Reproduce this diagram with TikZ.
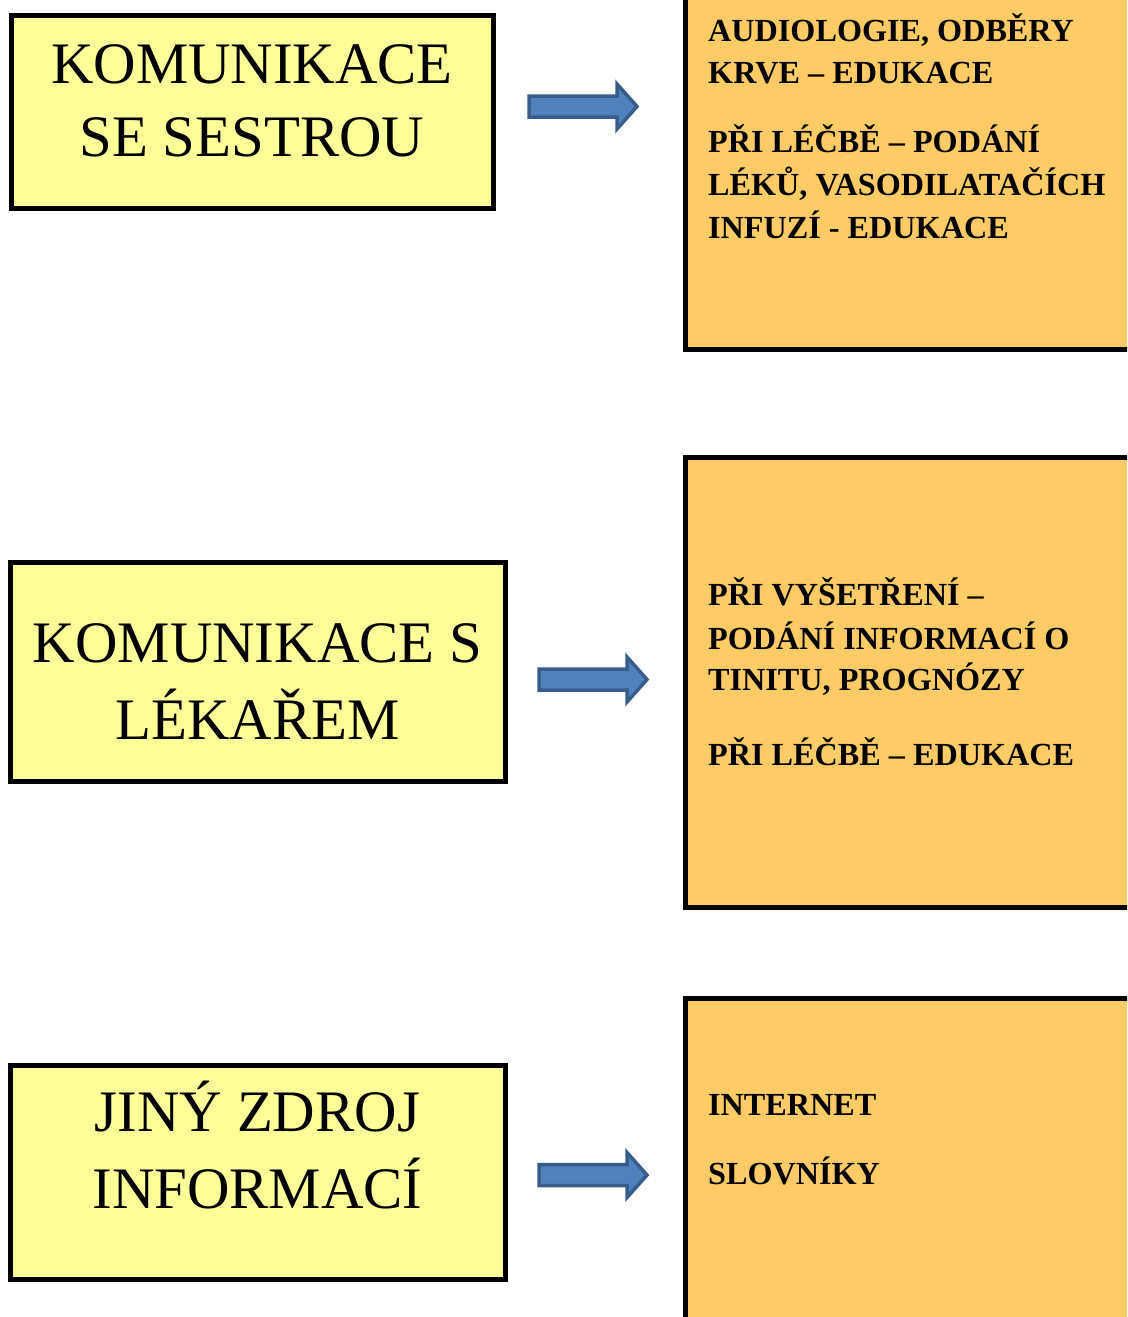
\documentclass[tikz,border=0pt]{standalone}
\usepackage{fontspec}
\setmainfont{Liberation Serif}
\definecolor{sourcefill}{HTML}{FFFF99}
\definecolor{detailfill}{HTML}{FFCB66}
\definecolor{arrowfill}{HTML}{4F81BD}
\definecolor{arrowline}{HTML}{385D8A}
\tikzset{
  sourcebox/.style={draw=black, line width=5pt, fill=sourcefill, rectangle,
    inner sep=0pt, outer sep=0pt},
  detailbox/.style={draw=black, line width=5pt, fill=detailfill, rectangle,
    inner sep=0pt, outer sep=0pt},
  sourcetext/.style={anchor=base, inner sep=0pt,
    font=\fontsize{58.8}{68}\selectfont},
  detailtext/.style={anchor=base west, inner sep=0pt,
    font=\bfseries\fontsize{32.2}{43}\selectfont},
  blockarrow/.pic={
    \draw[line width=3.5pt, draw=arrowline, fill=arrowfill, line join=miter]
      (0,-10.5) -- (88,-10.5) -- (88,-22.5) -- (108,0) -- (88,22.5)
      -- (88,10.5) -- (0,10.5) -- cycle;
  }
}
\begin{document}
\begin{tikzpicture}[x=1pt, y=-1pt]
  \useasboundingbox (0,0) rectangle (1127,1317);
  \clip (0,0) rectangle (1127,1317);

  % left column: where the information comes from
  \node[sourcebox, minimum width=482pt, minimum height=192.5pt] (s1) at (252,111.75) {};
  \node[sourcebox, minimum width=494.5pt, minimum height=219pt] (s2) at (257.75,671.5) {};
  \node[sourcebox, minimum width=494.5pt, minimum height=214pt] (s3) at (257.75,1172.5) {};

  \node[sourcetext] (s1a) at (252,83.3) {KOMUNIKACE};
  \node[sourcetext] (s1b) at (252,156.7) {SE SESTROU};
  \node[sourcetext] (s2a) at (257.5,662) {KOMUNIKACE S};
  \node[sourcetext] (s2b) at (257.5,739) {LÉKAŘEM};
  \node[sourcetext] (s3a) at (257.5,1131) {JINÝ ZDROJ};
  \node[sourcetext] (s3b) at (257.5,1208) {INFORMACÍ};

  % right column: what each source provides
  \node[detailbox, minimum width=460pt, minimum height=369.5pt] (d1) at (915,164.75) {};
  \node[detailbox, minimum width=460pt, minimum height=450pt] (d2) at (915,682.5) {};
  \node[detailbox, minimum width=460pt, minimum height=341.5pt] (d3) at (915,1169.25) {};

  \node[detailtext] (d1a) at (708,41.7) {AUDIOLOGIE, ODBĚRY};
  \node[detailtext] (d1b) at (708,83.3) {KRVE – EDUKACE};
  \node[detailtext] (d1c) at (708,152.5) {PŘI LÉČBĚ – PODÁNÍ};
  \node[detailtext] (d1d) at (708,195.5) {LÉKŮ, VASODILATAČÍCH};
  \node[detailtext] (d1e) at (708,238.5) {INFUZÍ - EDUKACE};

  \node[detailtext] (d2a) at (708,605) {PŘI VYŠETŘENÍ –};
  \node[detailtext] (d2b) at (708,649.3) {PODÁNÍ INFORMACÍ O};
  \node[detailtext] (d2c) at (708,690) {TINITU, PROGNÓZY};
  \node[detailtext] (d2d) at (708,765) {PŘI LÉČBĚ – EDUKACE};

  \node[detailtext] (d3a) at (708,1115.7) {INTERNET};
  \node[detailtext] (d3b) at (708,1184.3) {SLOVNÍKY};

  % block arrows from each source to its details
  \coordinate (a1) at (529,106.5);
  \coordinate (a2) at (539,679.5);
  \coordinate (a3) at (539,1175);
  \pic at (a1) {blockarrow};
  \pic at (a2) {blockarrow};
  \pic at (a3) {blockarrow};
\end{tikzpicture}
\end{document}
